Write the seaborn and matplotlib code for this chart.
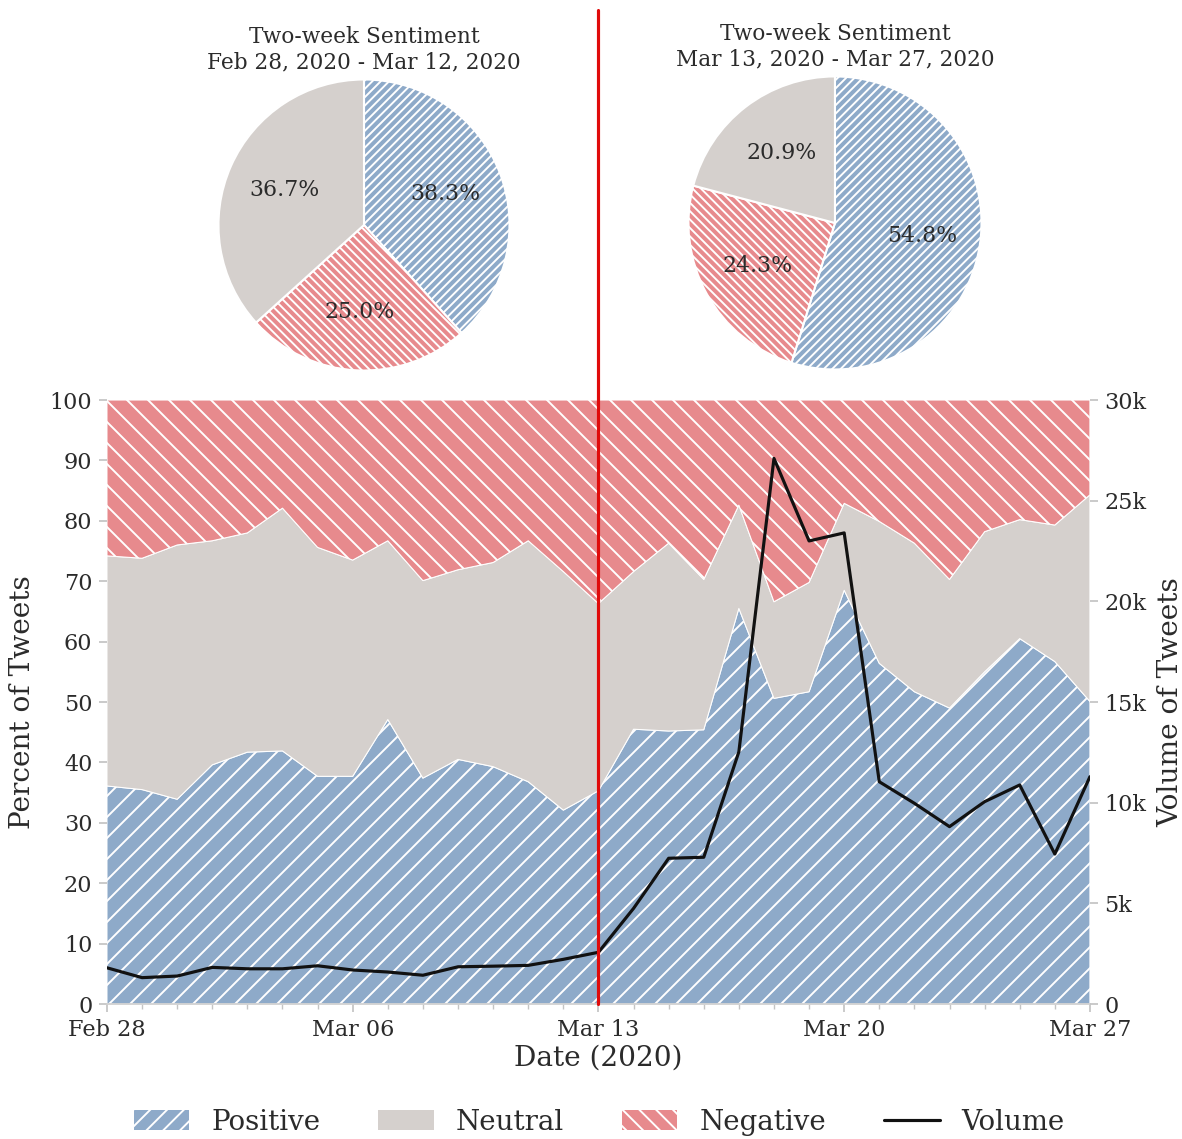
import matplotlib
matplotlib.use("Agg")
import matplotlib.pyplot as plt
import matplotlib.dates as mdates
from matplotlib.patches import Patch
from matplotlib.lines import Line2D
import numpy as np
import pandas as pd
import seaborn as sns

# ---- data -------------------------------------------------------------
dates = pd.date_range("2020-02-28", "2020-03-27", freq="D")

positive = [36.1, 35.5, 33.9, 39.6, 41.7, 41.9, 37.7, 37.7, 47.1, 37.4,
            40.5, 39.3, 36.8, 32.1, 35.3, 45.5, 45.2, 45.4, 65.5, 50.6,
            51.7, 68.5, 56.4, 51.7, 49.0, 55.0, 60.5, 56.7, 50.1]
neutral = [38.1, 38.3, 42.1, 37.1, 36.3, 40.2, 37.9, 35.8, 29.6, 32.7,
           31.4, 33.8, 39.9, 39.5, 31.0, 26.1, 31.1, 24.9, 17.1, 16.0,
           18.1, 14.4, 23.5, 24.6, 21.3, 23.2, 19.7, 22.6, 34.2]
negative = [25.8, 26.2, 24.0, 23.3, 22.0, 17.9, 24.4, 26.5, 23.3, 29.9,
            28.1, 26.9, 23.3, 28.4, 33.7, 28.4, 23.7, 29.7, 17.4, 33.4,
            30.2, 17.1, 20.1, 23.7, 29.7, 21.8, 19.8, 20.7, 15.7]
volume = [1800, 1310, 1390, 1820, 1750, 1750, 1900, 1690, 1590, 1430,
          1850, 1880, 1920, 2220, 2570, 4750, 7240, 7290, 12530, 27100,
          23000, 23400, 11040, 9970, 8810, 10050, 10880, 7450, 11290]

pie_labels = ["Positive", "Negative", "Neutral"]
pie_before = [38.3, 25.0, 36.7]
pie_after = [54.8, 24.3, 20.9]
pie_titles = ["Two-week Sentiment\nFeb 28, 2020 - Mar 12, 2020",
              "Two-week Sentiment\nMar 13, 2020 - Mar 27, 2020"]

split_date = pd.Timestamp("2020-03-13")
tick_dates = pd.to_datetime(["2020-02-28", "2020-03-06", "2020-03-13",
                             "2020-03-20", "2020-03-27"])
vol_ticks = [0, 5000, 10000, 15000, 20000, 25000, 30000]
vol_ticklabels = ["0", "5k", "10k", "15k", "20k", "25k", "30k"]

# ---- style ------------------------------------------------------------
sns.set_theme(style="ticks")
plt.rcParams["font.family"] = ["DejaVu Serif"]
plt.rcParams["hatch.linewidth"] = 0.55
plt.rcParams["text.color"] = "#2b2b2b"
plt.rcParams["axes.labelcolor"] = "#2b2b2b"
plt.rcParams["xtick.color"] = "#c4c4c4"
plt.rcParams["ytick.color"] = "#c4c4c4"
plt.rcParams["xtick.labelcolor"] = "#2b2b2b"
plt.rcParams["ytick.labelcolor"] = "#2b2b2b"

C_POS = "#8eaac9"
C_NEU = "#d5d0cd"
C_NEG = "#e78a8d"
C_RED = "#e00b0b"

DPI = 252
fig = plt.figure(figsize=(1182 / DPI, 1139 / DPI), dpi=DPI)

# ---- main stacked area ------------------------------------------------
ax = fig.add_axes([0.0905, 0.1185, 0.8316, 0.5303])
polys = ax.stackplot(dates, positive, neutral, negative,
                     colors=[C_POS, C_NEU, C_NEG],
                     edgecolor="white", linewidth=0.3)
for poly, h in zip(polys, ["////", "", "\\\\\\\\"]):
    poly.set_hatch(h)

ax.set_xlim(dates[0], dates[-1])
ax.set_ylim(0, 100)
ax.set_yticks(range(0, 101, 10))
ax.set_xticks(tick_dates)
ax.xaxis.set_major_formatter(mdates.DateFormatter("%b %d"))
ax.xaxis.set_minor_locator(mdates.DayLocator())
ax.tick_params(axis="both", which="major", labelsize=6.4, length=2.2,
               width=0.5, pad=2)
ax.tick_params(axis="x", which="minor", length=1.3, width=0.4)
ax.set_ylabel("Percent of Tweets", fontsize=8, labelpad=4)
ax.set_xlabel("Date (2020)", fontsize=8, labelpad=1)
for s in ["top", "right", "left"]:
    ax.spines[s].set_visible(False)
ax.spines["bottom"].set_color("#d0d0d0")
ax.spines["bottom"].set_linewidth(0.5)

# ---- tweet volume on the secondary axis ------------------------------
ax2 = ax.twinx()
vol_df = pd.DataFrame({"date": dates, "volume": volume})
sns.lineplot(data=vol_df, x="date", y="volume", ax=ax2, color="#111111",
             linewidth=0.9)
ax2.set_ylim(0, 30000)
ax2.set_yticks(vol_ticks)
ax2.set_yticklabels(vol_ticklabels)
ax2.set_xlim(dates[0], dates[-1])
ax2.tick_params(axis="y", labelsize=6.4, length=2.2, width=0.5, pad=2)
ax2.set_ylabel("Volume of Tweets", fontsize=8, labelpad=3)
for s in ax2.spines.values():
    s.set_visible(False)

# split marker running up through the pie panel
ax2.axvline(split_date, ymin=0, ymax=1.646, clip_on=False, color=C_RED,
            linewidth=0.9, zorder=10)

# ---- two-week pies -----------------------------------------------------
pie_boxes = [[0.1836, 0.6734, 0.2487, 0.2581],
             [0.5812, 0.6743, 0.2504, 0.2599]]
for box, vals, title in zip(pie_boxes, [pie_before, pie_after], pie_titles):
    pax = fig.add_axes(box)
    wedges, texts, autotexts = pax.pie(
        vals, colors=[C_POS, C_NEG, C_NEU], startangle=90, counterclock=False,
        autopct="%1.1f%%", pctdistance=0.6,
        wedgeprops=dict(edgecolor="white", linewidth=0.6),
        textprops=dict(fontsize=6.3, color="#2b2b2b"))
    for w, h in zip(wedges, ["/" * 10, "\\" * 10, ""]):
        w.set_hatch(h)
    pax.set_xlim(-1.01, 1.01)
    pax.set_ylim(-1.01, 1.01)
    pax.set_aspect("equal")
    pax.set_title(title, fontsize=6.2, pad=2.7, linespacing=1.2,
                  color="#2b2b2b")

# ---- legend -------------------------------------------------------------
handles = [Patch(facecolor=C_POS, edgecolor="white", hatch="/////", linewidth=0),
           Patch(facecolor=C_NEU, edgecolor="white", linewidth=0),
           Patch(facecolor=C_NEG, edgecolor="white", hatch="\\\\\\\\\\", linewidth=0),
           Line2D([0], [0], color="#111111", linewidth=0.9)]
fig.legend(handles, ["Positive", "Neutral", "Negative", "Volume"],
           loc="center", bbox_to_anchor=(0.507, 0.0149), ncol=4,
           frameon=False, fontsize=7.9, handlelength=2.0,
           columnspacing=2.1, handletextpad=0.8)

fig.savefig("out.png", dpi=DPI)
